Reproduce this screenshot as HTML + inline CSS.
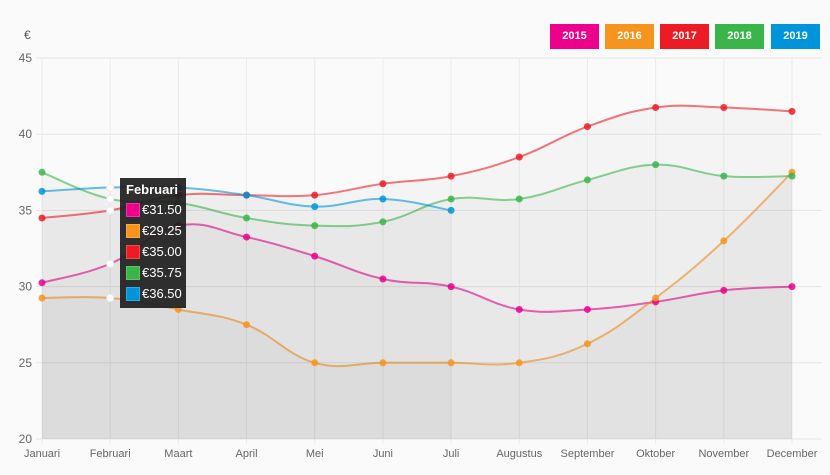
<!DOCTYPE html>
<html><head><meta charset="utf-8"><style>
body{margin:0;background:#fafafa;font-family:"Liberation Sans",sans-serif}
#wrap{position:relative;width:830px;height:475px;background:#fafafa}
.leg{position:absolute;top:24px;height:25px;width:49px;color:#fff;font-weight:bold;font-size:11px;text-align:center;line-height:25px}
#tip{position:absolute;left:120px;top:178px;width:66px;height:130px;background:rgba(30,30,30,0.92);color:#fff;font-size:13px}
#tip .t{font-weight:bold;margin:4px 0 2px 6px}
#tip .r{display:flex;align-items:center;height:21px;margin-left:6px}
#tip .r span{width:12px;height:12px;margin-right:2px;border:1px solid #fff3}
</style></head><body>
<div id="wrap">
<div class="leg" style="left:550px;background:#ec008c">2015</div>
<div class="leg" style="left:605px;background:#f7941d">2016</div>
<div class="leg" style="left:660px;background:#ed1c24">2017</div>
<div class="leg" style="left:715px;background:#39b54a">2018</div>
<div class="leg" style="left:771px;background:#0095da">2019</div>
<svg id="svg" width="830" height="475" style="position:absolute;left:0;top:0"></svg>
<div id="tip">
<div class="t">Februari</div>
<div class="r"><span style="background:#ec008c"></span>€31.50</div>
<div class="r"><span style="background:#f7941d"></span>€29.25</div>
<div class="r"><span style="background:#ed1c24"></span>€35.00</div>
<div class="r"><span style="background:#39b54a"></span>€35.75</div>
<div class="r"><span style="background:#0095da"></span>€36.50</div>
</div>
</div>
<script>
const categories=["Januari","Februari","Maart","April","Mei","Juni","Juli","Augustus","September","Oktober","November","December"];
const yTicks=[20,25,30,35,40,45];
const s2015=[30.25,31.5,34,33.25,32,30.5,30,28.5,28.5,29,29.75,30];
const s2016=[29.25,29.25,28.5,27.5,25,25,25,25,26.25,29.25,33,37.5];
const s2017=[34.5,35,36,36,36,36.75,37.25,38.5,40.5,41.75,41.75,41.5];
const s2018=[37.5,35.75,35.5,34.5,34,34.25,35.75,35.75,37,38,37.25,37.25];
const s2019=[36.25,36.5,36.5,36,35.25,35.75,35];
const series=[[s2015,"#ec008c","2015"],[s2016,"#f7941d","2016"],[s2017,"#ed1c24","2017"],[s2018,"#39b54a","2018"],[s2019,"#0095da","2019"]];
const X0=42,X1=792,Y0=439,Y1=58;
const x=i=>X0+i*(X1-X0)/(categories.length-1);
const y=v=>Y0-(v-20)/25*(Y0-Y1);
const svg=document.getElementById('svg');const NS="http://www.w3.org/2000/svg";
function mk(t,a,p){const e=document.createElementNS(NS,t);for(const k in a)e.setAttribute(k,a[k]);(p||svg).appendChild(e);return e;}
yTicks.forEach(v=>{const l=mk('line',{x1:36,x2:822,y1:y(v),y2:y(v),stroke:'#e6e6e6'});


const t=mk('text',{x:32,y:y(v)+4,'text-anchor':'end','font-size':12,fill:'#666'});t.textContent=v;

});
categories.forEach((c,i)=>{const l=mk('line',{x1:x(i),x2:x(i),y1:Y1,y2:Y0+5,stroke:'#ebebeb'});


const t=mk('text',{x:x(i),y:457,'text-anchor':'middle','font-size':11,fill:'#666'});t.textContent=c;

});
const ys=mk('text',{x:24,y:39,'font-size':12,fill:'#555'});ys.textContent="€";


function path(d){const p=d.map((v,i)=>[x(i),y(v)]);let s=`M${p[0][0]},${p[0][1]}`;const k=0.2;
for(let i=0;i<p.length-1;i++){const a=p[i-1]||p[i],b=p[i],c=p[i+1],e=p[i+2]||c;
s+=` C${b[0]+(c[0]-a[0])*k},${b[1]+(c[1]-a[1])*k} ${c[0]-(e[0]-b[0])*k},${c[1]-(e[1]-b[1])*k} ${c[0]},${c[1]}`;}return s;}
series.forEach(([d,col,n])=>{const pd=path(d);
const a=mk('path',{d:pd+` L${x(d.length-1)},${Y0} L${x(0)},${Y0} Z`,fill:'rgba(0,0,0,0.022)'});


const l=mk('path',{d:pd,fill:'none',stroke:col,'stroke-width':2,'stroke-opacity':0.6});

});
series.forEach(([d,col,n])=>{d.forEach((v,i)=>{const c=mk('circle',{cx:x(i),cy:y(v),r:3.5,fill:i==1?'#fff':col,stroke:i==1?'#eee':'none','fill-opacity':i==1?1:0.85});

});});
</script>
</body></html>
